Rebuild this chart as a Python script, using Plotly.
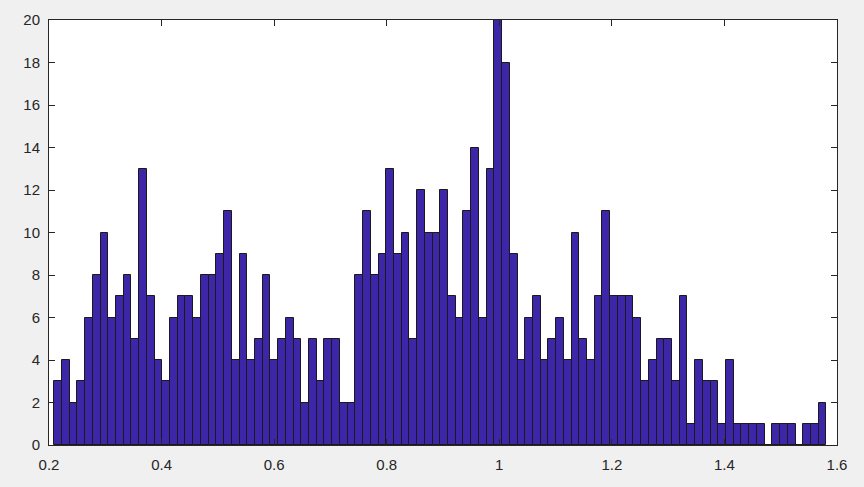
import plotly.graph_objects as go

# Histogram data (100 bins)
bin_start = 0.2092
bin_width = 0.01372
counts = [
    3, 4, 2, 3, 6, 8, 10, 6, 7, 8,
    5, 13, 7, 4, 3, 6, 7, 7, 6, 8,
    8, 9, 11, 4, 9, 4, 5, 8, 4, 5,
    6, 5, 2, 5, 3, 5, 5, 2, 2, 8,
    11, 8, 9, 13, 9, 10, 5, 12, 10, 10,
    12, 7, 6, 11, 14, 6, 13, 20, 18, 9,
    4, 6, 7, 4, 5, 6, 4, 10, 5, 4,
    7, 11, 7, 7, 7, 6, 3, 4, 5, 5,
    3, 7, 1, 4, 3, 3, 1, 4, 1, 1,
    1, 1, 0, 1, 1, 1, 0, 1, 1, 2,
]
x_ticks = [0.2, 0.4, 0.6, 0.8, 1.0, 1.2, 1.4, 1.6]
x_tick_labels = ["0.2", "0.4", "0.6", "0.8", "1", "1.2", "1.4", "1.6"]
y_ticks = [0, 2, 4, 6, 8, 10, 12, 14, 16, 18, 20]

centers = [bin_start + bin_width * (i + 0.5) for i in range(len(counts))]

fig = go.Figure(
    go.Bar(
        x=centers,
        y=counts,
        width=bin_width,
        marker=dict(color="#3e26a8", line=dict(color="#1a1a1a", width=1)),
    )
)

axis_common = dict(
    showgrid=False,
    zeroline=False,
    showline=True,
    linecolor="#262626",
    linewidth=1,
    mirror="allticks",
    ticks="inside",
    ticklen=6,
    tickwidth=1,
    tickcolor="#262626",
    automargin=False,
    tickfont=dict(family="Liberation Sans, Arial, sans-serif", size=15, color="#262626"),
)

fig.update_layout(
    width=864,
    height=487,
    paper_bgcolor="#f0f0f0",
    plot_bgcolor="#ffffff",
    margin=dict(l=49, r=27, t=20, b=42, pad=0, autoexpand=False),
    showlegend=False,
    bargap=0,
    xaxis=dict(range=[0.2, 1.6], tickvals=x_ticks, ticktext=x_tick_labels,
               ticklabelstandoff=6, **axis_common),
    yaxis=dict(range=[0, 20], tickvals=y_ticks, ticklabelstandoff=5, **axis_common),
)

fig.write_html(
    "out.html",
    config={"displayModeBar": False},
    post_script="document.body.style.margin='0';document.body.style.background='#f0f0f0';",
)
